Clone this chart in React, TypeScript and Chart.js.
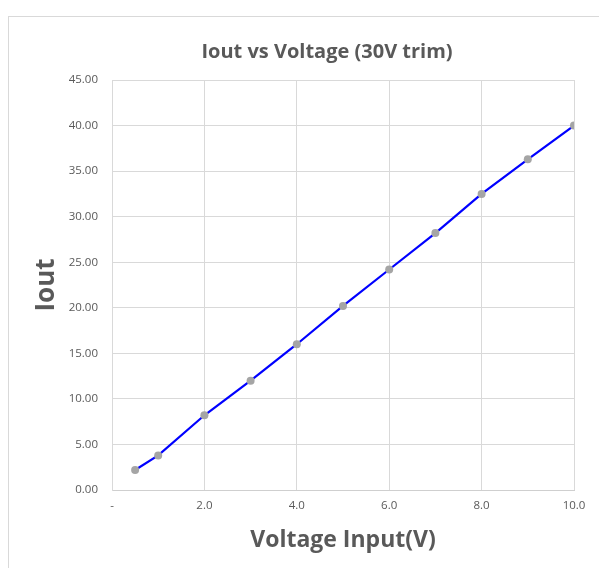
import React, { useEffect, useRef } from "react";
import { Chart, registerables } from "chart.js";

Chart.register(...registerables);

const voltageInput: number[] = [0.5, 1, 2, 3, 4, 5, 6, 7, 8, 9, 10];
const iout: number[] = [2.2, 3.8, 8.2, 12.0, 16.0, 20.2, 24.2, 28.2, 32.5, 36.3, 40.0];

const chartTitle = "Iout vs Voltage (30V trim)";
const xTitle = "Voltage Input(V)";
const yTitle = "Iout";

const xMin = 0;
const xMax = 10;
const xStep = 2;
const yMin = 0;
const yMax = 45;
const yStep = 5;

const TEXT = "#595959";
const GRID = "#d9d9d9";
const FONT = "'Open Sans', 'Liberation Sans', sans-serif";

export default function App() {
  const canvasRef = useRef<HTMLCanvasElement | null>(null);

  useEffect(() => {
    const canvas = canvasRef.current;
    if (!canvas) return;
    const data = voltageInput.map((x, i) => ({ x, y: iout[i] }));
    const chart = new Chart(canvas, {
      type: "scatter",
      data: {
        datasets: [
          {
            label: yTitle,
            data,
            showLine: true,
            borderColor: "#0000ff",
            borderWidth: 2.2,
            backgroundColor: "#a5a5a5",
            pointBackgroundColor: "#a5a5a5",
            pointBorderWidth: 0,
            pointRadius: 4,
            tension: 0,
          },
        ],
      },
      options: {
        responsive: false,
        animation: false,
        devicePixelRatio: 1,
        layout: { padding: { left: 30, right: 16, top: 28, bottom: 0 } },
        plugins: {
          legend: { display: false },
          tooltip: { enabled: false },
          title: {
            display: true,
            text: chartTitle,
            color: TEXT,
            font: { family: FONT, size: 20, weight: "bold" },
            padding: { top: 12, bottom: 16 },
          },
        },
        scales: {
          x: {
            type: "linear",
            min: xMin,
            max: xMax,
            grid: { color: GRID, drawTicks: false },
            border: { color: "#cfcfcf" },
            ticks: {
              stepSize: xStep,
              padding: 9,
              color: TEXT,
              font: { family: FONT, size: 11.5 },
              callback: (v: any) => (Number(v) === 0 ? "-" : Number(v).toFixed(1)),
            },
            title: {
              display: true,
              text: xTitle,
              color: TEXT,
              font: { family: FONT, size: 23, weight: "bold" },
              padding: { top: 0, bottom: 14.2 },
            },
            afterFit: (s: any) => {
              s.height = 78;
            },
          },
          y: {
            type: "linear",
            min: yMin,
            max: yMax,
            grid: { color: GRID, drawTicks: false },
            border: { color: GRID },
            ticks: {
              stepSize: yStep,
              padding: 14,
              color: TEXT,
              font: { family: FONT, size: 11.5 },
              callback: (v: any) => Number(v).toFixed(2),
            },
            title: {
              display: true,
              text: yTitle,
              color: TEXT,
              font: { family: FONT, size: 26, weight: "bold" },
              padding: { top: 1.4, bottom: 0 },
            },
            afterFit: (s: any) => {
              s.width = 82;
            },
          },
          y2: {
            type: "linear",
            position: "right",
            display: true,
            grid: { display: false },
            border: { display: false },
            ticks: { display: false },
            afterFit: (s: any) => {
              s.width = 50;
            },
          },
        },
      },
    });
    return () => chart.destroy();
  }, []);

  return (
    <div
      style={{
        position: "fixed",
        left: 0,
        top: 0,
        width: 599,
        height: 568,
        overflow: "hidden",
        background: "#ffffff",
      }}
    >
      <div
        style={{
          position: "absolute",
          left: 8,
          top: 16,
          width: 700,
          height: 700,
          border: "1px solid #d9d9d9",
          boxSizing: "border-box",
        }}
      />
      <canvas
        ref={canvasRef}
        width={640}
        height={568}
        style={{ position: "absolute", left: 0, top: 0, width: 640, height: 568 }}
      />
    </div>
  );
}
